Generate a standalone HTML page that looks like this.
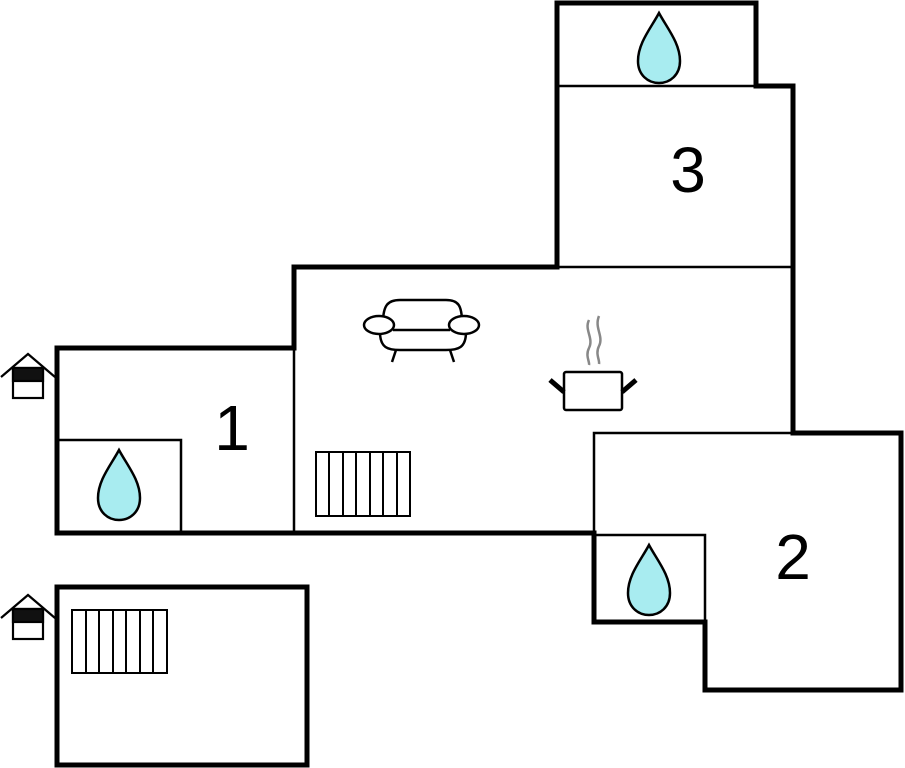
<!DOCTYPE html>
<html><head><style>body{margin:0;background:#fff}svg{display:block}</style></head><body>
<svg width="905" height="768" viewBox="0 0 905 768" xmlns="http://www.w3.org/2000/svg">
<defs>
<g id="drop"><path d="M0,-35 C-8,-20 -21,-5 -21,13 C-21,27 -11,35 0,35 C11,35 21,27 21,13 C21,-5 8,-20 0,-35 Z" fill="#a8ecf0" stroke="#000" stroke-width="2.5"/></g>
<g id="house" fill="none" stroke="#000" stroke-width="2.2"><path d="M-27,10 L0,-13 L27,10"/><rect x="-15" y="1" width="30" height="30" fill="#fff"/><rect x="-15" y="1" width="30" height="13" fill="#111"/></g>
</defs>
<g fill="none" stroke="#000" stroke-linejoin="miter">
<path d="M57,348 H294 V267 H557 V3 H756 V86 H793 V433 H901 V690 H705 V622 H594 V533 H57 Z" stroke-width="5"/>
<rect x="57" y="587" width="250" height="178" stroke-width="5"/>
<g stroke-width="2.5">
<path d="M557,267 H793"/><path d="M557,86 H756"/><path d="M294,348 V533"/>
<path d="M59,440 H181 V533"/><path d="M594,533 V433 H793"/><path d="M594,535 H705 V622"/>
</g>
<g stroke-width="2"><rect x="316" y="452" width="94" height="64"/>
<path d="M329,452V516M343,452V516M356,452V516M370,452V516M383,452V516M397,452V516"/>
<rect x="72" y="610" width="95" height="63"/>
<path d="M86,610V673M99,610V673M113,610V673M126,610V673M140,610V673M153,610V673"/></g>
<!-- sofa -->
<g stroke-width="2.5"><path d="M383,323 C383,305 388,300 400,300 H446 C458,300 462,305 462,323"/>
<path d="M380,332 C380,348 388,350 400,350 H446 C458,350 466,348 466,332"/>
<path d="M393,330 H450"/>
<ellipse cx="379" cy="325" rx="15" ry="9" fill="#fff"/><ellipse cx="464" cy="325" rx="15" ry="9" fill="#fff"/>
<path d="M396,350 L392,362 M450,350 L454,362"/>
<rect x="564" y="372" width="58" height="38" rx="2"/>
<path d="M564,392 L550,380 M622,392 L636,380" stroke-width="5"/>
</g>
<path d="M589,320 C584,330 594,338 589,348 C585,356 590,362 589,365 M599,316 C594,328 604,336 599,346 C595,354 600,360 599,364" stroke="#888" stroke-width="2.5"/>
</g>
<use href="#drop" x="659" y="48"/><use href="#drop" x="119" y="485"/><use href="#drop" x="649" y="580"/>
<use href="#house" x="28" y="367"/><use href="#house" x="28" y="608"/>
<g font-family="Liberation Sans, sans-serif" font-size="64" text-anchor="middle" fill="#000">
<text x="232" y="450">1</text><text x="688" y="192">3</text><text x="793" y="579">2</text>
</g>
</svg>
</body></html>
